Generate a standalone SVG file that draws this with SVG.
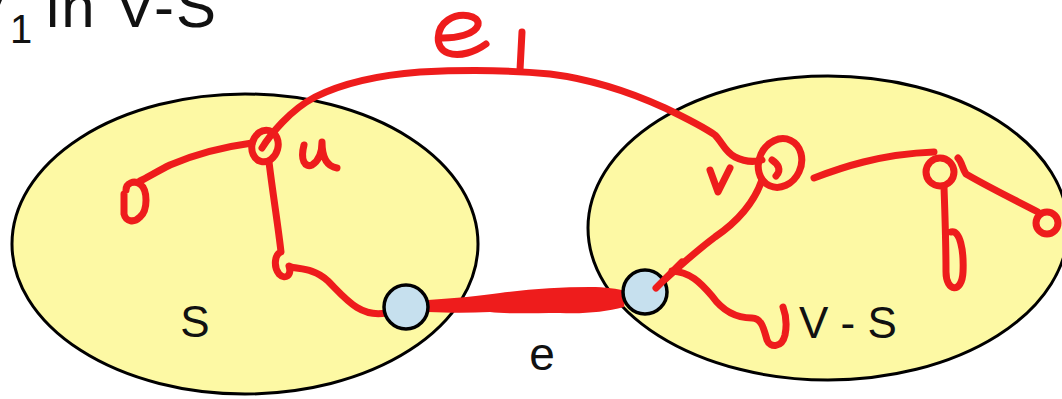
<svg xmlns="http://www.w3.org/2000/svg" width="1062" height="399" viewBox="0 0 1062 399">
<style>
.set{fill:#fdf9a4;stroke:#000;stroke-width:3}
.end{fill:#c6e0ee;stroke:#000;stroke-width:3.5}
.ink{fill:none;stroke:#ee1c1c;stroke-width:7;stroke-linecap:round;stroke-linejoin:round}
.lbl{font-family:"Liberation Sans",Arial,sans-serif;fill:#111}
</style>
<rect width="1062" height="399" fill="#fff"/>
<g id="title">
<text class="lbl" font-size="60" y="27"><tspan x="-32">V</tspan><tspan x="10" y="43" font-size="40">1</tspan><tspan x="46" y="27" letter-spacing="2">in V-S</tspan></text>
</g>
<g id="set-S"><ellipse class="set" cx="245" cy="244" rx="233" ry="150"/><text class="lbl" x="195" y="337" font-size="44" text-anchor="middle">S</text></g>
<g id="set-VS"><ellipse class="set" cx="828" cy="228" rx="240" ry="152"/><text class="lbl" x="799" y="338" font-size="44">V - S</text></g>
<g id="connectors">
<path id="edge-e" fill="#ee1c1c" d="M428,300 C455,298 480,296 500,293 C530,289 560,287 590,287 C605,287 618,289 626,291 L624,307 C605,312 585,314 560,313 C530,313 505,314 490,312 C470,313 450,313 428,312 Z"/>
<path class="ink" d="M262,148 C270,135 290,110 315,97 C345,82 380,75 420,72 C460,70 510,70 550,74 C590,79 630,92 665,108 C690,120 705,128 715,135 C722,142 725,152 735,157 C745,162 755,162 762,160"/>
<ellipse class="ink" cx="265" cy="146" rx="13" ry="16" transform="rotate(15 265 146)"/>
<path class="ink" d="M252,143 C230,146 200,152 170,165 C158,171 148,177 140,181"/>
<path class="ink" d="M126,190 C126,183 134,180 140,184 C148,190 148,210 140,217 C134,223 126,222 124,214 L124,194"/>
<path class="ink" d="M269,162 C273,195 278,225 281,252 C275,254 273,266 279,274 C285,280 292,276 289,266 C295,270 312,266 328,281 C345,298 360,318 386,313"/>
<ellipse class="ink" cx="780" cy="163" rx="21" ry="25" transform="rotate(25 780 163)"/>
<path class="ink" d="M772,160 C778,164 782,170 776,176"/>
<path class="ink" d="M762,180 C755,200 740,220 715,237 C695,252 675,270 656,288"/>
<path class="ink" d="M672,271 C690,272 700,282 712,296 C722,310 735,318 752,318 C762,318 764,330 767,340 C770,348 782,348 785,335 C787,325 786,315 783,307"/>
<path class="ink" d="M814,178 C840,168 880,154 934,152"/>
<circle class="ink" cx="940" cy="172" r="14"/>
<path class="ink" d="M944,187 C945,215 946,250 946,272 C946,292 962,294 963,272 C964,250 960,230 951,232"/>
<path class="ink" d="M958,158 C962,162 962,168 966,174 C990,188 1015,200 1038,212"/>
<circle class="ink" cx="1047" cy="223" r="11"/>
</g>
<g id="node-u-end"><circle class="end" cx="406" cy="307" r="22"/></g>
<g id="node-v-end"><circle class="end" cx="645" cy="292" r="22"/></g>
<path class="ink" d="M656,288 L682,262"/>
<g id="labels">
<text class="lbl" x="542" y="370" font-size="46" text-anchor="middle">e</text>
<path class="ink" d="M443,38 C455,38 475,35 478,25 C480,15 460,12 448,20 C436,28 434,48 448,53 C460,57 475,52 486,44"/>
<path class="ink" stroke-width="8" d="M522,32 L520,70"/>
<path class="ink" d="M304,145 C300,160 305,168 312,165 C320,160 322,150 322,142 C322,155 325,166 337,168"/>
<path class="ink" d="M710,170 L718,192 L730,168"/>
</g>
</svg>
